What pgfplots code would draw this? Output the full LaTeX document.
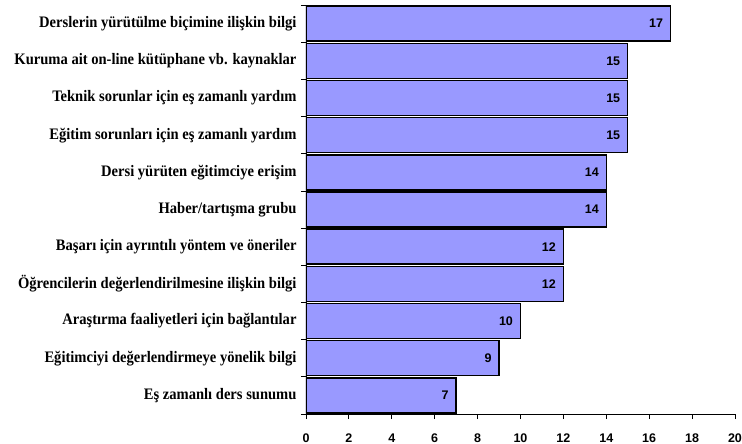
\documentclass[border=0pt]{standalone}
\usepackage{fontspec}
\setmainfont{Liberation Serif}
\newfontfamily\arial{Liberation Sans}
\newfontfamily\narrowserif[FakeStretch=0.91]{Liberation Serif}
\usepackage{pgfplots}
\pgfplotsset{compat=1.18}
\definecolor{barfill}{HTML}{9999FF}
\begin{document}
\begin{tikzpicture}
\useasboundingbox (-306pt,-30pt) rectangle (436pt,414pt);
\begin{axis}[
    anchor=south west,
    at={(0pt,0pt)},
    scale only axis,
    width=429pt, height=409pt,
    xbar, bar width=35pt,
    xmin=0, xmax=20,
    ymin=-0.5, ymax=10.5,
    y dir=reverse,
    axis lines*=left,
    axis line style={line width=0.8pt},
    xtick={0,2,...,20},
    ytick={0,...,10},
    yticklabels={
        Derslerin yürütülme biçimine ilişkin bilgi,
        Kuruma ait on-line kütüphane vb. kaynaklar,
        Teknik sorunlar için eş zamanlı yardım,
        Eğitim sorunları için eş zamanlı yardım,
        Dersi yürüten eğitimciye erişim,
        Haber/tartışma grubu,
        Başarı için ayrıntılı yöntem ve öneriler,
        Öğrencilerin değerlendirilmesine ilişkin bilgi,
        Araştırma faaliyetleri için bağlantılar,
        Eğitimciyi değerlendirmeye yönelik bilgi,
        Eş zamanlı ders sunumu},
    minor ytick={-0.5,0.5,...,10.5},
    major tick length=0pt,
    minor tick length=5pt,
    tick align=outside,
    tick style={black, line width=0.8pt},
    extra x ticks={0,2,...,20},
    extra x tick labels={},
    extra x tick style={major tick length=5pt},
    yticklabel style={font=\fontsize{16}{16}\selectfont\narrowserif\bfseries, xshift=-6pt},
    xticklabel style={font=\fontsize{12.5}{12.5}\selectfont\arial\bfseries, yshift=-16pt},
    /pgf/number format/assume math mode=true,
    nodes near coords,
    every node near coord/.append style={anchor=east, xshift=-3.5pt,
        font=\fontsize{12.5}{12.5}\selectfont\arial\bfseries, black},
]
\addplot[fill=barfill, draw=black, line width=1.5pt] coordinates {
    (17,0) (15,1) (15,2) (15,3) (14,4) (14,5)
    (12,6) (12,7) (10,8) (9,9) (7,10)
};
\end{axis}
\end{tikzpicture}
\end{document}
